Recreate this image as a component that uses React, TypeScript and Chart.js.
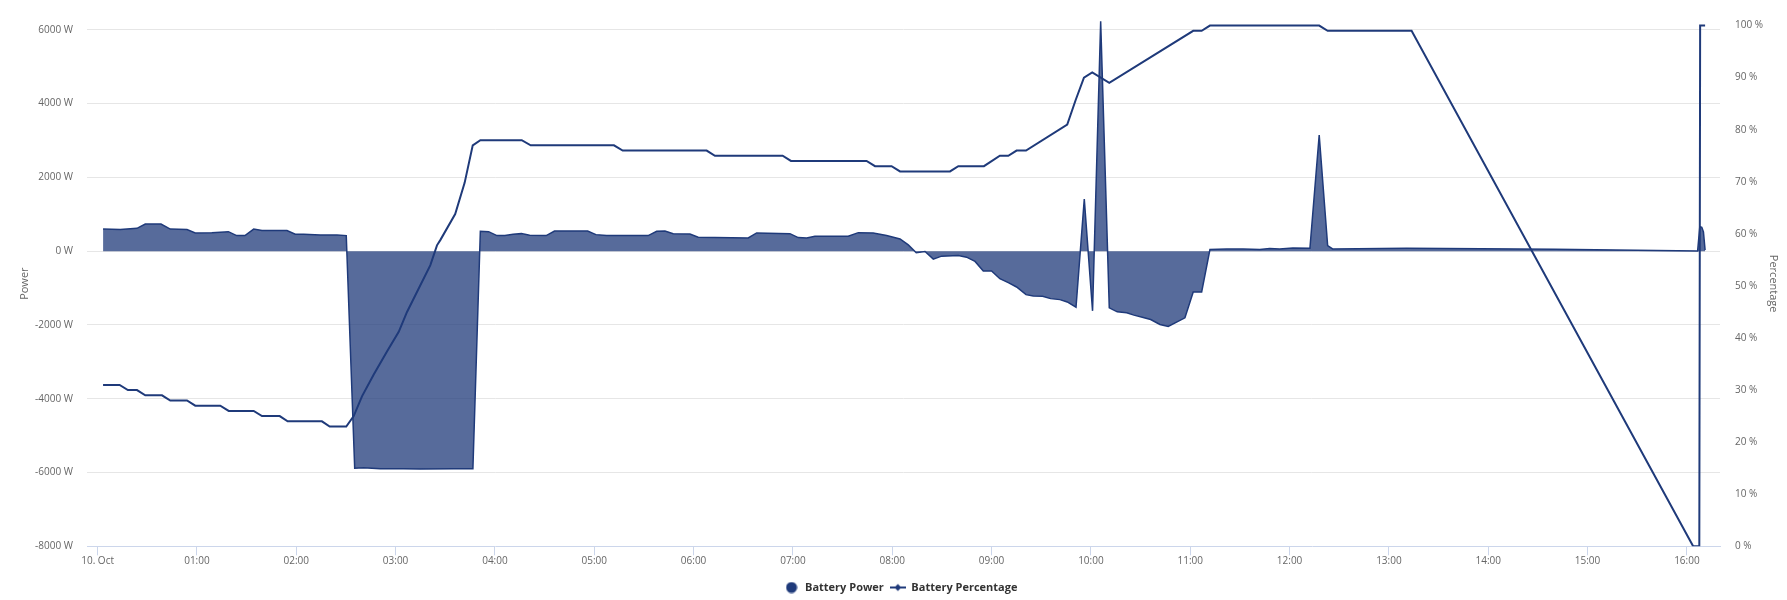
import React, { useEffect, useRef } from 'react';
import { Chart, registerables } from 'chart.js';

Chart.register(...registerables);

// Minutes after midnight, 10 Oct
const powerMinutes = [3.3, 13.7, 23.8, 28.8, 38.3, 43.9, 54, 59, 69, 79, 84, 89, 94.3, 99.3, 114.4, 119.4, 124.5, 134.5, 144.6, 150.2, 155.3, 160.7, 170.8, 184.9, 194.9, 215, 226.7, 231.2, 236.2, 241.2, 246, 251, 256, 261, 271, 276, 296, 301, 307.5, 332.6, 337.7, 342.7, 347.7, 357.8, 362.8, 393, 398.1, 418.2, 423.2, 428.3, 433.3, 453.4, 459.5, 468.5, 476.6, 484.7, 489.7, 494.5, 499.8, 504.8, 509.8, 519.9, 524.9, 530, 535, 540, 545, 550.1, 555.1, 560.8, 565.2, 570.8, 575.7, 581.3, 585.7, 591, 596, 601, 605.9, 611.1, 615.9, 621.6, 626, 631.6, 636.1, 641.7, 646.7, 656.8, 661.8, 666.9, 671.9, 682, 692, 702, 708, 714, 722, 732.3, 737.9, 743, 746, 790.7, 880, 966.5, 967.8, 969, 970, 971];
const powerWatts = [600, 585, 620, 736, 736, 600, 585, 495, 503, 530, 423, 423, 600, 558, 558, 458, 458, 440, 440, 423, -5884, -5868, -5895, -5895, -5903, -5895, -5895, 539, 530, 423, 423, 458, 476, 431, 423, 548, 548, 449, 423, 423, 539, 548, 476, 467, 377, 359, 494, 476, 368, 359, 404, 404, 503, 494, 423, 332, 170, -40, -8, -215, -135, -116, -162, -278, -539, -539, -746, -854, -970, -1178, -1213, -1221, -1286, -1313, -1375, -1518, 1410, -1617, 6230, -1536, -1644, -1671, -1733, -1798, -1852, -1987, -2040, -1806, -1105, -1105, 46, 62, 62, 46, 73, 62, 89, 81, 3146, 154, 62, 81, 50, 8, 670, 650, 520, 30];

const percentMinutes = [3.3, 13.3, 18.3, 23.8, 28.8, 38.9, 43.9, 54, 59, 74.1, 79.2, 94.3, 99.3, 110, 114.8, 135.5, 140.2, 150.2, 154.7, 159.7, 166.8, 174.8, 181.9, 186.9, 201, 205, 207, 216, 221.7, 226.6, 231.2, 256.2, 261.6, 311.9, 317.2, 367.9, 372.9, 413.8, 418.8, 464.5, 469.6, 479.6, 484.7, 514.9, 519.9, 535.4, 545, 550.1, 555.1, 560.8, 585.7, 590.8, 595.8, 600.8, 611.1, 661.8, 666.9, 671.9, 737.9, 743, 793.7, 963.8, 967.5, 968, 971];
const percentValues = [31, 31, 30, 30, 29, 29, 28, 28, 27, 27, 26, 26, 25, 25, 24, 24, 23, 23, 25, 28.8, 33, 37.4, 41.2, 45, 54, 57.8, 58.8, 63.8, 69.8, 77, 78, 78, 77, 77, 76, 76, 75, 75, 74, 74, 73, 73, 72, 72, 73, 73, 75, 75, 76, 76, 81, 85.7, 90, 91, 89, 99, 99, 100, 100, 99, 99, 0, 0, 100, 100];

const xTickLabels = ['10. Oct', '01:00', '02:00', '03:00', '04:00', '05:00', '06:00', '07:00', '08:00', '09:00', '10:00', '11:00', '12:00', '13:00', '14:00', '15:00', '16:00'];
const powerTicks = [-8000, -6000, -4000, -2000, 0, 2000, 4000, 6000];
const percentTicks = [0, 10, 20, 30, 40, 50, 60, 70, 80, 90, 100];
const seriesNames = ['Battery Power', 'Battery Percentage'];
const axisTitles = ['Power', 'Percentage'];

const LINE = '#1f3a7a';
const FILL = 'rgba(31,58,122,0.75)';
const FONT = "'Open Sans', sans-serif";

function circleSymbol(): HTMLCanvasElement {
  const c = document.createElement('canvas');
  c.width = 12;
  c.height = 12;
  const g = c.getContext('2d')!;
  g.fillStyle = LINE;
  g.beginPath();
  g.arc(6, 6, 5.5, 0, Math.PI * 2);
  g.fill();
  return c;
}

function lineSymbol(): HTMLCanvasElement {
  const c = document.createElement('canvas');
  c.width = 16;
  c.height = 12;
  const g = c.getContext('2d')!;
  g.strokeStyle = LINE;
  g.lineWidth = 2;
  g.beginPath();
  g.moveTo(0, 6);
  g.lineTo(16, 6);
  g.stroke();
  g.fillStyle = LINE;
  g.beginPath();
  g.moveTo(8, 2.5);
  g.lineTo(11.5, 6);
  g.lineTo(8, 9.5);
  g.lineTo(4.5, 6);
  g.closePath();
  g.fill();
  return c;
}

export default function App() {
  const ref = useRef<HTMLCanvasElement | null>(null);

  useEffect(() => {
    if (!ref.current) return;
    const symbols = [circleSymbol(), lineSymbol()];
    const chart = new Chart(ref.current, {
      type: 'line',
      data: {
        datasets: [
          {
            label: seriesNames[0],
            data: powerMinutes.map((m, i) => ({ x: m, y: powerWatts[i] })),
            yAxisID: 'y',
            borderColor: LINE,
            backgroundColor: FILL,
            borderWidth: 1.5,
            fill: 'origin',
            pointRadius: 0,
            tension: 0,
            order: 1,
          },
          {
            label: seriesNames[1],
            data: percentMinutes.map((m, i) => ({ x: m, y: percentValues[i] })),
            yAxisID: 'y1',
            borderColor: LINE,
            backgroundColor: LINE,
            borderWidth: 2,
            fill: false,
            pointRadius: 0,
            tension: 0,
            order: 0,
          },
        ],
      },
      options: {
        animation: false,
        responsive: true,
        maintainAspectRatio: false,
        layout: { padding: { left: 14, right: 0, top: 15.6, bottom: -3 } },
        plugins: {
          tooltip: { enabled: false },
          legend: {
            position: 'bottom',
            labels: {
              usePointStyle: true,
              pointStyleWidth: 16,
              boxHeight: 11,
              padding: 6,
              color: '#333333',
              font: { family: FONT, size: 11, weight: 'bold' },
              generateLabels: (ch: any) =>
                ch.data.datasets.map((ds: any, i: number) => ({
                  text: ds.label,
                  pointStyle: symbols[i],
                  fillStyle: LINE,
                  strokeStyle: LINE,
                  lineWidth: 0,
                  hidden: false,
                  datasetIndex: i,
                  fontColor: '#333333',
                })),
            },
          },
        },
        scales: {
          x: {
            type: 'linear',
            min: -6.4,
            max: 980,
            afterFit: (s: any) => {
              s.height = 29.7;
            },
            afterBuildTicks: (s: any) => {
              s.ticks = xTickLabels.map((_, i) => ({ value: i * 60 }));
            },
            border: { display: true, color: '#ccd6eb', width: 1 },
            grid: {
              display: true,
              drawOnChartArea: false,
              drawTicks: true,
              tickLength: 9,
              color: '#ccd6eb',
            },
            ticks: {
              autoSkip: false,
              maxRotation: 0,
              padding: 0,
              color: '#666666',
              font: { family: FONT, size: 10 },
              callback: (v: any) => {
                const idx = Math.round(Number(v) / 60);
                return xTickLabels[idx] ?? '';
              },
            },
          },
          y: {
            type: 'linear',
            position: 'left',
            min: -8000,
            max: 6240,
            afterFit: (s: any) => {
              s.width = 73;
            },
            afterBuildTicks: (s: any) => {
              s.ticks = powerTicks.map((v) => ({ value: v }));
            },
            border: { display: false },
            grid: {
              drawTicks: false,
              color: (c: any) => (c.tick && c.tick.value === -8000 ? 'rgba(0,0,0,0)' : '#e6e6e6'),
            },
            title: {
              display: true,
              text: axisTitles[0],
              color: '#666666',
              font: { family: FONT, size: 11 },
              padding: { top: 4.4, bottom: 0 },
            },
            ticks: {
              padding: 14,
              color: '#666666',
              font: { family: FONT, size: 10 },
              callback: (v: any) => `${v} W`,
            },
          },
          y1: {
            type: 'linear',
            position: 'right',
            min: 0,
            max: 100.88,
            afterFit: (s: any) => {
              s.width = 67;
            },
            afterBuildTicks: (s: any) => {
              s.ticks = percentTicks.map((v) => ({ value: v }));
            },
            border: { display: false },
            grid: { drawOnChartArea: false, drawTicks: false },
            title: {
              display: true,
              text: axisTitles[1],
              color: '#666666',
              font: { family: FONT, size: 11 },
              padding: { top: 7.4, bottom: 0 },
            },
            ticks: {
              padding: 15,
              color: '#666666',
              font: { family: FONT, size: 10 },
              callback: (v: any) => `${v} %`,
            },
          },
        },
      } as any,
    });
    return () => chart.destroy();
  }, []);

  return (
    <div style={{ position: 'fixed', left: 0, top: 0, width: '1787px', height: '600px', background: '#ffffff' }}>
      <canvas ref={ref} />
    </div>
  );
}
